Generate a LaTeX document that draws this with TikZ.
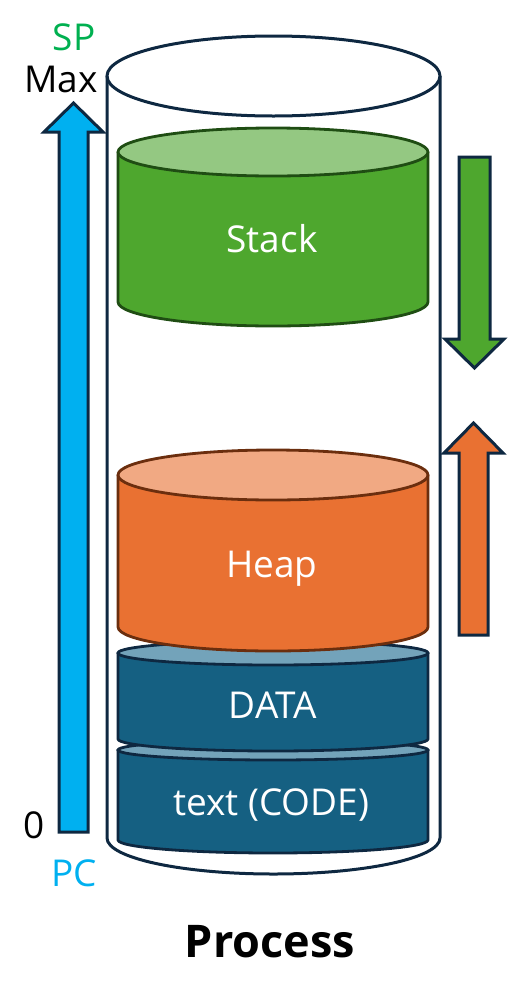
\documentclass[tikz,border=0pt]{standalone}
\usepackage{fontspec}
\setmainfont{Open Sans}
\definecolor{navy}{HTML}{0E2841}
\definecolor{stackfill}{HTML}{4EA72E}
\definecolor{stacktop}{HTML}{94C882}
\definecolor{stackline}{HTML}{1F4D13}
\definecolor{heapfill}{HTML}{E97132}
\definecolor{heaptop}{HTML}{F1A983}
\definecolor{heapline}{HTML}{6B2E0E}
\definecolor{datafill}{HTML}{156082}
\definecolor{datatop}{HTML}{73A3BA}
\definecolor{pcblue}{HTML}{00B0F0}
\definecolor{spgreen}{HTML}{00B050}
\newcommand{\mycyl}[9]{%
  % #1 x left, #2 x right, #3 top center y, #4 top ry, #5 bottom center y, #6 bottom ry, #7 fill, #8 top fill, #9 line
  \pgfmathsetmacro{\rx}{(#2-#1)/2}%
  \pgfmathsetmacro{\cx}{(#2+#1)/2}%
  \filldraw[fill=#7, draw=#9, line width=2.8pt, line join=round]
    (#1,#3) -- (#1,#5) arc[start angle=180, end angle=0, x radius=\rx, y radius=#6] -- (#2,#3) -- cycle;
  \filldraw[fill=#8, draw=#9, line width=2.8pt] (\cx,#3) ellipse[x radius=\rx, y radius=#4];
}
\tikzset{
  lbl/.style={anchor=base, inner sep=0pt, font=\fontsize{37}{40}\selectfont},
  inlbl/.style={lbl, text=white},
  arrowshape/.style={draw=navy, line width=3pt, line join=miter},
}
\begin{document}
\begin{tikzpicture}[x=1pt, y=-1pt]
\useasboundingbox (0,0) rectangle (508,1002);
% outer cylinder
\draw[navy, line width=3pt] (107,76) -- (107,838) arc[start angle=180, end angle=0, x radius=166.5, y radius=36] -- (440,76);
\draw[navy, line width=3pt] (273.5,76) ellipse[x radius=166.5, y radius=40];
% inner cylinders
\mycyl{118}{428}{152}{24}{302}{24}{stackfill}{stacktop}{stackline}
\mycyl{118}{428}{750}{10}{840}{13}{datafill}{datatop}{navy}
\mycyl{118}{428}{653}{12}{739}{12}{datafill}{datatop}{navy}
\mycyl{118}{428}{475}{25}{627}{24}{heapfill}{heaptop}{heapline}
% labels inside
\node[inlbl] (stack) at (272,252) {Stack};
\node[inlbl] (heap) at (272,577) {Heap};
\node[inlbl] (data) at (273,718) {DATA};
\node[inlbl] (code) at (271,815) {text (CODE)};
% blue PC arrow
\filldraw[arrowshape, fill=pcblue] (59,832) -- (59,132) -- (44,132) -- (73.5,103) -- (103,132) -- (88,132) -- (88,832) -- cycle;
% green stack arrow
\filldraw[arrowshape, fill=stackfill] (459,157) -- (490,157) -- (490,339) -- (504,339) -- (474.5,368) -- (445,339) -- (459,339) -- cycle;
% orange heap arrow
\filldraw[arrowshape, fill=heapfill] (459,635) -- (459,453) -- (444,453) -- (473.5,423) -- (503,453) -- (488,453) -- (488,635) -- cycle;
% side labels
\node[lbl, text=spgreen] (sp) at (74,50) {SP};
\node[lbl] (max) at (61,92) {Max};
\node[lbl] (zero) at (34,838) {0};
\node[lbl, text=pcblue] (pc) at (74,886) {PC};
\node[anchor=base, inner sep=0pt, font=\bfseries\fontsize{45}{50}\selectfont] (title) at (270,957) {Process};
\end{tikzpicture}
\end{document}
